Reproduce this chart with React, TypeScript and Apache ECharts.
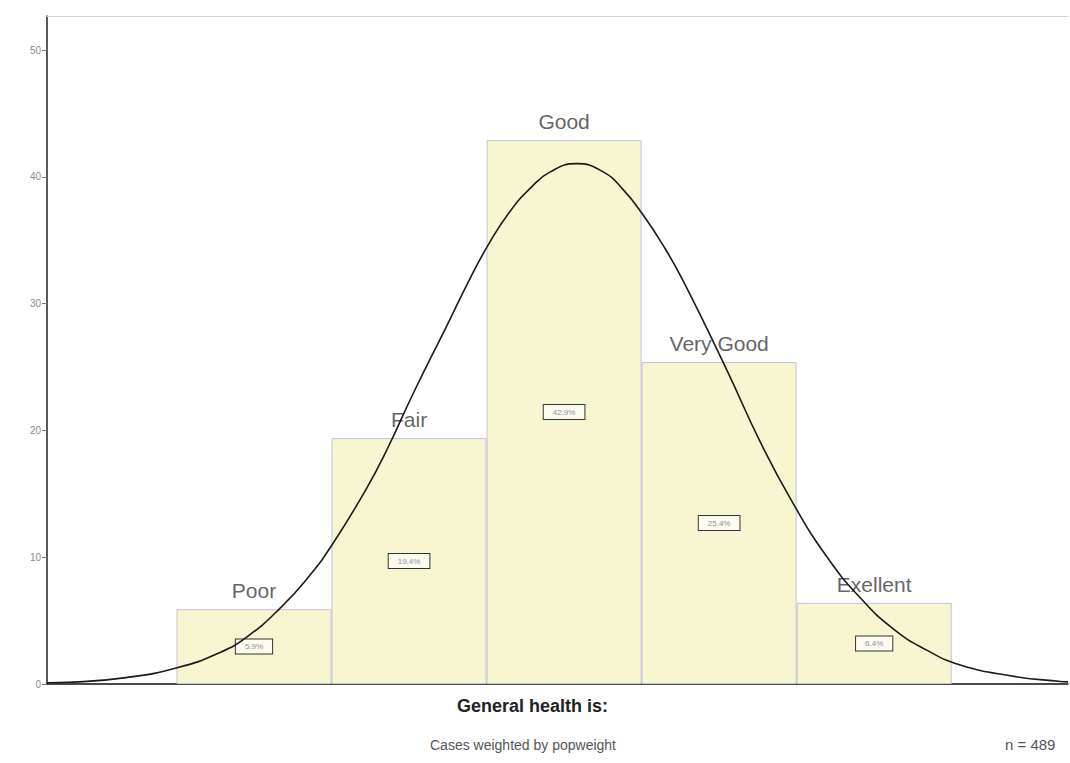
import React, { useEffect, useRef } from "react";
import * as echarts from "echarts";

// Categories and their percentage values (bar heights)
const categories = ["Poor", "Fair", "Good", "Very Good", "Exellent"];
const positions = [1, 2, 3, 4, 5];
const percents = [5.9, 19.4, 42.9, 25.4, 6.4];
const percentLabels = ["5.9%", "19.4%", "42.9%", "25.4%", "6.4%"];

// Normal curve points (x in category units, y in %)
const curveX = [
  -0.335, -0.161, 0.174, 0.51, 0.774, 0.955, 1.174, 1.355, 1.51, 1.729, 1.858,
  2.026, 2.245, 2.394, 2.523, 2.652, 2.781, 2.91, 3.08, 3.252, 3.381,
  3.51, 3.639, 3.768, 4.052, 4.265, 4.477, 4.697, 4.91, 5.123, 5.342, 5.555,
  5.877, 6.2, 6.25,
];
const curveY = [
  0.1, 0.15, 0.5, 1.3, 2.45, 3.72, 6.05, 8.5, 11.1, 15.5, 18.5, 22.9, 28.3,
  32.0, 34.9, 37.3, 39.1, 40.4, 41.05, 40.4, 39.0, 37.0, 34.6, 31.8, 24.7,
  19.1, 14.25, 10.0, 6.8, 4.35, 2.65, 1.5, 0.65, 0.2, 0.17,
];

const yTicks = [0, 10, 20, 30, 40, 50];
const xTitle = "General health is:";
const noteLeft = "Cases weighted by popweight";
const noteRight = "n = 489";

export default function App() {
  const ref = useRef<HTMLDivElement>(null);

  useEffect(() => {
    if (!ref.current) return;
    const chart = echarts.init(ref.current, null, { renderer: "svg" });
    const font = "Liberation Sans, Arial, sans-serif";
    chart.setOption({
      animation: false,
      backgroundColor: "#ffffff",
      grid: { left: 47, right: 2, top: 16, bottom: 79, containLabel: false },
      xAxis: [
        {
          type: "value",
          min: -0.335,
          max: 6.25,
          axisLine: { show: true, onZero: false, lineStyle: { color: "#111", width: 1.5 } },
          axisTick: { show: false },
          axisLabel: { show: false },
          splitLine: { show: false },
        },
        {
          type: "value",
          position: "top",
          min: -0.335,
          max: 6.25,
          axisLine: { show: true, onZero: false, lineStyle: { color: "#d4d4d4", width: 1 } },
          axisTick: { show: false },
          axisLabel: { show: false },
          splitLine: { show: false },
        },
      ],
      yAxis: {
        type: "value",
        min: 0,
        max: 52.7,
        interval: 10,
        axisLine: { show: true, onZero: false, lineStyle: { color: "#222", width: 1.5 } },
        axisTick: { show: true, length: 5, lineStyle: { color: "#777" } },
        axisLabel: {
          color: "#8a8a8a",
          fontSize: 10,
          fontFamily: font,
          margin: 6,
          showMaxLabel: false,
          formatter: (v: number) => (yTicks.includes(v) ? String(v) : ""),
        },
        splitLine: { show: false },
      },
      series: [
        {
          type: "bar",
          barWidth: 155,
          data: positions.map((p, i) => [p, percents[i]]),
          itemStyle: {
            color: "#f8f6d0",
            borderColor: "#c4c2d8",
            borderWidth: 1,
          },
          label: {
            show: true,
            position: "inside",
            formatter: (p: any) => percentLabels[p.dataIndex],
            fontSize: 8,
            fontFamily: font,
            color: "#9a8aaa",
            backgroundColor: "#fbfbee",
            borderColor: "#333",
            borderWidth: 1,
            padding: [3, 9, 3, 9],
          },
          z: 2,
        },
        {
          type: "scatter",
          symbolSize: 0,
          data: positions.map((p, i) => [p, percents[i]]),
          label: {
            show: true,
            position: "top",
            distance: 8,
            formatter: (p: any) => categories[p.dataIndex],
            fontSize: 21,
            fontFamily: font,
            color: "#3a3a3a",
          },
          z: 3,
        },
        {
          type: "line",
          smooth: 0.5,
          showSymbol: false,
          symbol: "none",
          data: curveX.map((x, i) => [x, curveY[i]]),
          lineStyle: { color: "#1a1a1a", width: 1.6 },
          z: 5,
        },
      ],
      graphic: [
        {
          type: "text",
          left: 457,
          top: 697,
          style: {
            text: xTitle,
            font: "bold 18px Liberation Sans, Arial, sans-serif",
            fill: "#222",
          },
        },
        {
          type: "text",
          left: 430,
          top: 738,
          style: {
            text: noteLeft,
            font: "14px Liberation Sans, Arial, sans-serif",
            fill: "#555",
          },
        },
        {
          type: "text",
          left: 1005,
          top: 737,
          style: {
            text: noteRight,
            font: "15px Liberation Sans, Arial, sans-serif",
            fill: "#555",
          },
        },
      ],
    });
    return () => chart.dispose();
  }, []);

  return (
    <div
      ref={ref}
      style={{ position: "fixed", left: 0, top: 0, width: 1070, height: 763 }}
    />
  );
}
